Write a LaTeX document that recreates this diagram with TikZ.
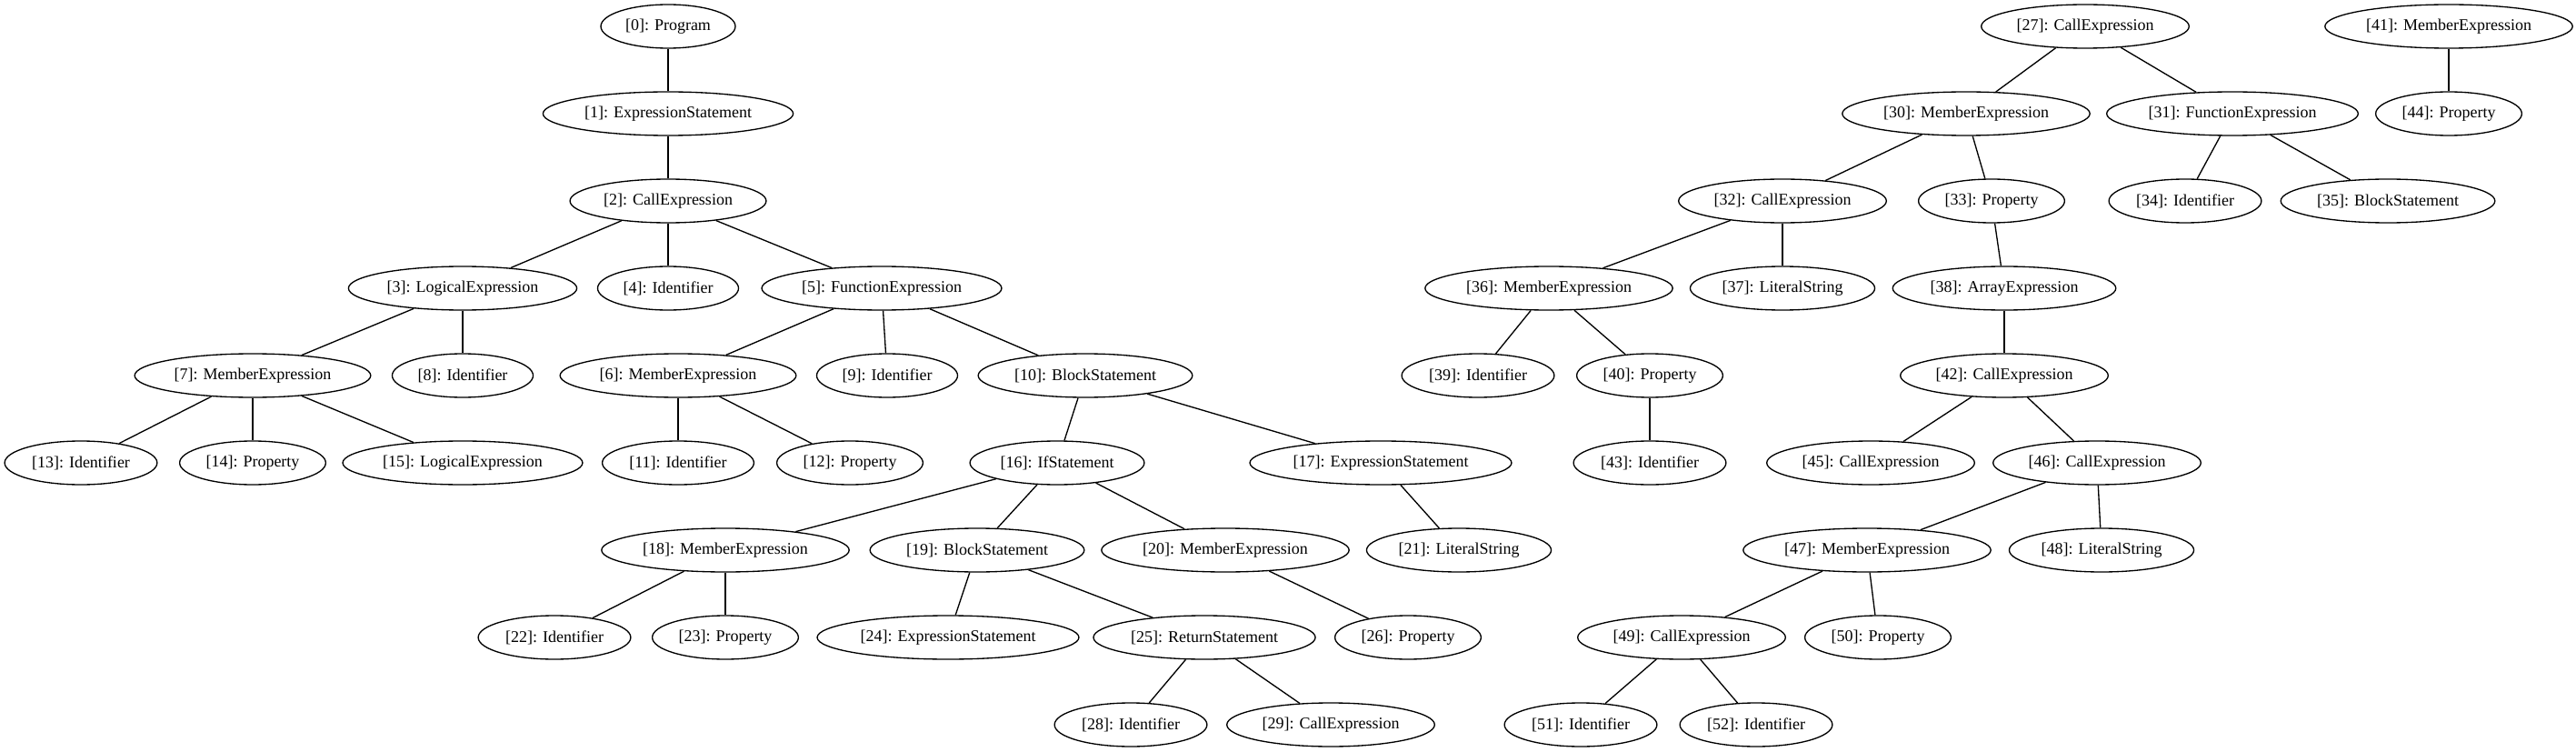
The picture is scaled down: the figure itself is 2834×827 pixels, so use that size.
\documentclass[tikz,border=0pt]{standalone}
\usepackage{fontspec}
\setmainfont{Liberation Serif}
\usetikzlibrary{shapes.geometric}

\begin{document}
\begin{tikzpicture}[x=0.75pt, y=-0.75pt, line width=1pt,
    astnode/.style={draw, ellipse, inner xsep=4pt, inner ysep=0pt, minimum height=36pt,
        font=\fontsize{13.5pt}{16pt}\selectfont}]
    \useasboundingbox (0,0) rectangle (2834,827);

    % First tree
    \node[astnode] (n0)  at (735,29)  {[0]: Program};
    \node[astnode] (n1)  at (735,125) {[1]: ExpressionStatement};
    \node[astnode] (n2)  at (735,221) {[2]: CallExpression};
    \node[astnode] (n3)  at (509,317) {[3]: LogicalExpression};
    \node[astnode] (n4)  at (735,317) {[4]: Identifier};
    \node[astnode] (n5)  at (970,317) {[5]: FunctionExpression};
    \node[astnode] (n7)  at (278,413) {[7]: MemberExpression};
    \node[astnode] (n8)  at (509,413) {[8]: Identifier};
    \node[astnode] (n6)  at (746,413) {[6]: MemberExpression};
    \node[astnode] (n9)  at (976,413) {[9]: Identifier};
    \node[astnode] (n10) at (1194,413) {[10]: BlockStatement};
    \node[astnode] (n13) at (89,509)  {[13]: Identifier};
    \node[astnode] (n14) at (278,509) {[14]: Property};
    \node[astnode] (n15) at (509,509) {[15]: LogicalExpression};
    \node[astnode] (n11) at (746,509) {[11]: Identifier};
    \node[astnode] (n12) at (935,509) {[12]: Property};
    \node[astnode] (n16) at (1163,509) {[16]: IfStatement};
    \node[astnode] (n17) at (1519,509) {[17]: ExpressionStatement};
    \node[astnode] (n18) at (798,605) {[18]: MemberExpression};
    \node[astnode] (n19) at (1075,605) {[19]: BlockStatement};
    \node[astnode] (n20) at (1348,605) {[20]: MemberExpression};
    \node[astnode] (n21) at (1605,605) {[21]: LiteralString};
    \node[astnode] (n22) at (610,701) {[22]: Identifier};
    \node[astnode] (n23) at (798,701) {[23]: Property};
    \node[astnode] (n24) at (1043,701) {[24]: ExpressionStatement};
    \node[astnode] (n25) at (1325,701) {[25]: ReturnStatement};
    \node[astnode] (n26) at (1549,701) {[26]: Property};
    \node[astnode] (n28) at (1244,797) {[28]: Identifier};
    \node[astnode] (n29) at (1464,797) {[29]: CallExpression};

    % Second tree
    \node[astnode] (n27) at (2294,29)  {[27]: CallExpression};
    \node[astnode] (n30) at (2163,125) {[30]: MemberExpression};
    \node[astnode] (n31) at (2456,125) {[31]: FunctionExpression};
    \node[astnode] (n32) at (1961,221) {[32]: CallExpression};
    \node[astnode] (n33) at (2191,221) {[33]: Property};
    \node[astnode] (n34) at (2404,221) {[34]: Identifier};
    \node[astnode] (n35) at (2627,221) {[35]: BlockStatement};
    \node[astnode] (n36) at (1704,317) {[36]: MemberExpression};
    \node[astnode] (n37) at (1961,317) {[37]: LiteralString};
    \node[astnode] (n38) at (2205,317) {[38]: ArrayExpression};
    \node[astnode] (n39) at (1626,413) {[39]: Identifier};
    \node[astnode] (n40) at (1815,413) {[40]: Property};
    \node[astnode] (n42) at (2205,413) {[42]: CallExpression};
    \node[astnode] (n43) at (1815,509) {[43]: Identifier};
    \node[astnode] (n45) at (2058,509) {[45]: CallExpression};
    \node[astnode] (n46) at (2307,509) {[46]: CallExpression};
    \node[astnode] (n47) at (2054,605) {[47]: MemberExpression};
    \node[astnode] (n48) at (2312,605) {[48]: LiteralString};
    \node[astnode] (n49) at (1850,701) {[49]: CallExpression};
    \node[astnode] (n50) at (2066,701) {[50]: Property};
    \node[astnode] (n51) at (1739,797) {[51]: Identifier};
    \node[astnode] (n52) at (1932,797) {[52]: Identifier};

    % Third tree
    \node[astnode] (n41) at (2694,29)  {[41]: MemberExpression};
    \node[astnode] (n44) at (2694,125) {[44]: Property};

    % Edges
    \draw (n0) -- (n1);
    \draw (n1) -- (n2);
    \draw (n2) -- (n3);
    \draw (n2) -- (n4);
    \draw (n2) -- (n5);
    \draw (n3) -- (n7);
    \draw (n3) -- (n8);
    \draw (n5) -- (n6);
    \draw (n5) -- (n9);
    \draw (n5) -- (n10);
    \draw (n7) -- (n13);
    \draw (n7) -- (n14);
    \draw (n7) -- (n15);
    \draw (n6) -- (n11);
    \draw (n6) -- (n12);
    \draw (n10) -- (n16);
    \draw (n10) -- (n17);
    \draw (n16) -- (n18);
    \draw (n16) -- (n19);
    \draw (n16) -- (n20);
    \draw (n17) -- (n21);
    \draw (n18) -- (n22);
    \draw (n18) -- (n23);
    \draw (n19) -- (n24);
    \draw (n19) -- (n25);
    \draw (n20) -- (n26);
    \draw (n25) -- (n28);
    \draw (n25) -- (n29);

    \draw (n27) -- (n30);
    \draw (n27) -- (n31);
    \draw (n30) -- (n32);
    \draw (n30) -- (n33);
    \draw (n31) -- (n34);
    \draw (n31) -- (n35);
    \draw (n32) -- (n36);
    \draw (n32) -- (n37);
    \draw (n33) -- (n38);
    \draw (n36) -- (n39);
    \draw (n36) -- (n40);
    \draw (n40) -- (n43);
    \draw (n38) -- (n42);
    \draw (n42) -- (n45);
    \draw (n42) -- (n46);
    \draw (n46) -- (n47);
    \draw (n46) -- (n48);
    \draw (n47) -- (n49);
    \draw (n47) -- (n50);
    \draw (n49) -- (n51);
    \draw (n49) -- (n52);

    \draw (n41) -- (n44);
\end{tikzpicture}
\end{document}
